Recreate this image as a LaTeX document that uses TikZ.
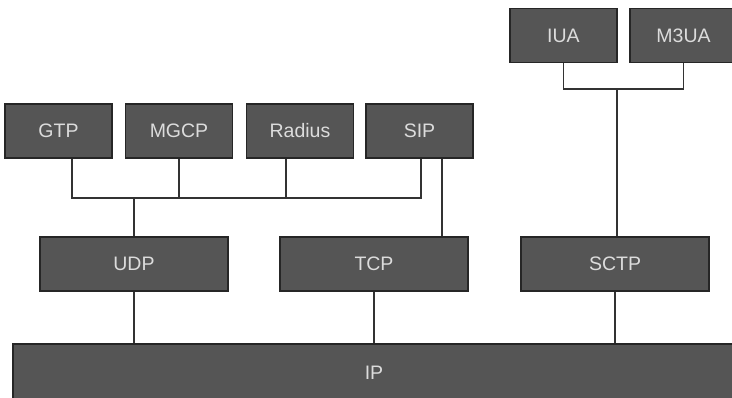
\documentclass[tikz,border=0pt]{standalone}
\usepackage{fontspec}
\setmainfont{Liberation Sans}
\usepackage{xcolor}
\usepackage{tikz}

\definecolor{boxgray}{HTML}{555555}
\definecolor{labelgray}{HTML}{DCDCDC}
\tikzset{
  layer/.style={draw=black!85, line width=1.5pt, fill=boxgray, text=labelgray,
    minimum width=107pt, minimum height=54pt, inner sep=0pt,
    font=\fontsize{19.5}{22}\selectfont},
  wide/.style={layer, minimum width=188pt},
  wire/.style={draw=black!80, line width=1.3pt}
}

\begin{document}
\begin{tikzpicture}[x=1pt,y=-1pt]
    \useasboundingbox (0,0) rectangle (732,397);
    \clip (0,0) rectangle (732,397);
    % applications
    \node[layer] (GTP) at (58.5,131) {GTP};
    \node[layer] (MGCP) at (179,131) {MGCP};
    \node[layer] (Radius) at (300,131) {Radius};
    \node[layer] (SIP) at (419.5,131) {SIP};
    \node[layer] (IUA) at (563.5,35.5) {IUA};
    \node[layer] (M3UA) at (683.5,35.5) {M3UA};
    % transport
    \node[wide] (UDP) at (134,264) {UDP};
    \node[wide] (TCP) at (374,264) {TCP};
    \node[wide] (SCTP) at (615,264) {SCTP};
    \node[layer, minimum width=722pt, minimum height=58pt] (IP) at (374,373) {IP};
    % taps on the buses
    \coordinate (g) at (72,198);
    \coordinate (r) at (286,198);
    \coordinate (s) at (421,198);
    \coordinate (t) at (442,198);
    \coordinate (ua) at (563.5,89);
    \coordinate (m3) at (683.5,89);
    \coordinate (sc) at (617,89);
    \path[wire] (GTP.south -| g) -- (g) -- (s) -- (SIP.south -| s);
    \path[wire] (MGCP.south) -- (MGCP.south |- g);
    \path[wire] (Radius.south -| r) -- (r);
    \path[wire] (UDP.north) -- (UDP.north |- g);
    \path[wire] (SIP.south -| t) -- (TCP.north -| t);
    \path[wire] (IUA.south) -- (ua) -- (m3) -- (M3UA.south);
    \path[wire] (sc) -- (SCTP.north -| sc);
    \path[wire] (UDP.south) -- (UDP.south |- IP.north);
    \path[wire] (TCP.south) -- (TCP.south |- IP.north);
    \path[wire] (SCTP.south) -- (SCTP.south |- IP.north);
\end{tikzpicture}
\end{document}
